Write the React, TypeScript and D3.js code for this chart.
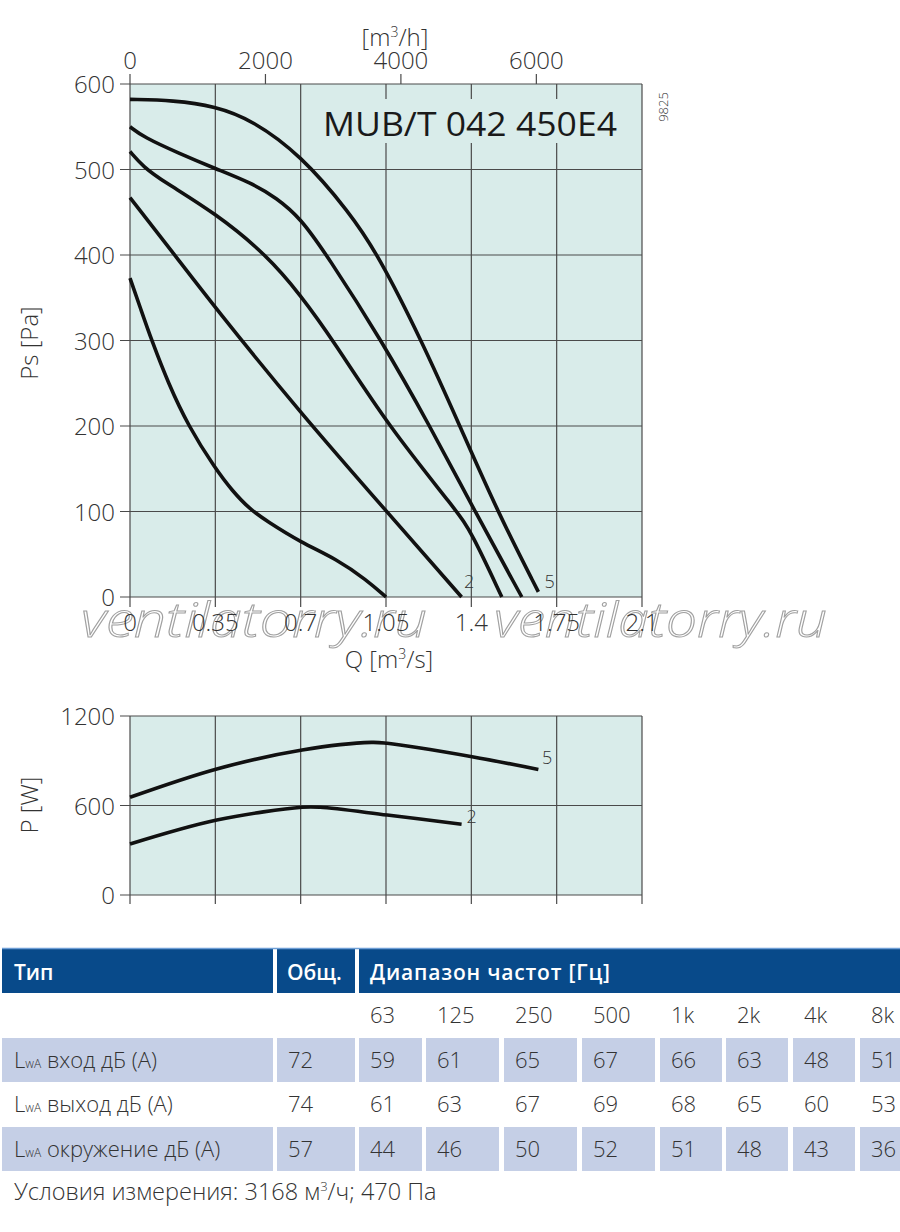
import React from 'react';
import * as d3 from 'd3';

// ---------- data ----------
const Q_TICKS = [0, 0.35, 0.7, 1.05, 1.4, 1.75, 2.1];
const Q_LABELS = ['0', '0.35', '0.7', '1.05', '1.4', '1.75', '2.1'];
const PS_TICKS = [0, 100, 200, 300, 400, 500, 600];
const FLOW_TICKS = [0, 2000, 4000, 6000]; // m3/h
const P_TICKS = [0, 600, 1200];

// Ps [Pa] vs Q [m3/s]
const curve1: [number, number][] = [[0, 373], [0.045, 336], [0.089, 300], [0.157, 250], [0.239, 200], [0.35, 150], [0.42, 124], [0.49, 103], [0.56, 89], [0.7, 64], [0.85, 44], [0.97, 20], [1.05, 0]];
const curve2: [number, number][] = [[0, 467], [0.178, 402], [0.35, 338], [0.7, 215], [1.053, 100], [1.36, 0]];
const curve3: [number, number][] = [[0, 521], [0.055, 503], [0.137, 486], [0.35, 449], [0.561, 400], [0.7, 353], [0.834, 300], [1.059, 200], [1.342, 100], [1.4, 76], [1.525, 0]];
const curve4: [number, number][] = [[0, 550], [0.055, 538], [0.2, 519], [0.35, 501], [0.5, 484], [0.6, 467], [0.7, 443], [0.807, 400], [1.032, 300], [1.23, 200], [1.415, 100], [1.607, 0]];
const curve5: [number, number][] = [[0, 582], [0.178, 581], [0.35, 574], [0.5, 558], [0.7, 517], [0.9, 450], [1.018, 400], [1.196, 300], [1.353, 200], [1.507, 100], [1.675, 6]];
const PS_CURVES = [curve1, curve2, curve3, curve4, curve5];

// P [W] vs Q [m3/s]
const power2: [number, number][] = [[0, 342], [0.356, 503], [0.706, 588], [0.78, 588], [1.055, 536], [1.36, 474]];
const power5: [number, number][] = [[0, 655], [0.356, 845], [0.706, 972], [0.99, 1023], [1.055, 1017], [1.403, 927], [1.675, 842]];
const POWER_CURVES = [power2, power5];

// table
const FREQS = ['63', '125', '250', '500', '1k', '2k', '4k', '8k'];
const ROW_NAMES = ['вход дБ (А)', 'выход дБ (А)', 'окружение дБ (А)'];
const TOTALS = [72, 74, 57];
const INLET = [59, 61, 65, 67, 66, 63, 48, 51];
const OUTLET = [61, 63, 67, 69, 68, 65, 60, 53];
const SURROUND = [44, 46, 50, 52, 51, 48, 43, 36];
const ROWS = [INLET, OUTLET, SURROUND];

// ---------- layout ----------
const FONT = '"Open Sans", "DejaVu Sans", sans-serif';
const TXT = '#333';
const GRID = '#4a4a4a';
const PLOT_BG = '#d9ecea';
const HEAD_BG = '#084a8a';
const ROW_BG = '#c5cfe6';

const x = d3.scaleLinear().domain([0, 2.1]).range([130, 642]);
const y = d3.scaleLinear().domain([0, 600]).range([597, 84]);
const yP = d3.scaleLinear().domain([0, 1200]).range([895, 716]);

const psLine = d3.line<[number, number]>().x(d => x(d[0])).y(d => y(d[1])).curve(d3.curveBasis);
const pLine = d3.line<[number, number]>().x(d => x(d[0])).y(d => yP(d[1])).curve(d3.curveCatmullRom.alpha(0.5));

// table geometry
const COL_X = [359, 426, 504, 582, 660, 726, 793, 860];
const COL_W = [63, 73, 73, 73, 62, 62, 62, 62];
const ROW_Y = [1038, 1082, 1127];
const ROW_H = 44;

export default function App() {
  return (
    <svg width={900} height={1232} style={{ position: 'absolute', left: 0, top: 0, background: '#fff' }} fontFamily={FONT} fontWeight={300}>
      {/* ===== Pressure chart ===== */}
      <rect x={x(0)} y={y(600)} width={x(2.1) - x(0)} height={y(0) - y(600)} fill={PLOT_BG} />
      {Q_TICKS.map((q, i) => (
        <line key={'vg' + i} x1={x(q)} x2={x(q)} y1={y(600)} y2={y(0) + 10} stroke={GRID} strokeWidth={1.2} />
      ))}
      {PS_TICKS.map((p, i) => (
        <line key={'hg' + i} x1={x(0) - 10} x2={x(2.1)} y1={y(p)} y2={y(p)} stroke={GRID} strokeWidth={1.2} />
      ))}
      {/* title box */}
      <rect x={318} y={99} width={312} height={44} fill={PLOT_BG} />
      <text x={323} y={136} fontSize={33} fontWeight={500} fill="#1a1a1a" textLength={294} lengthAdjust="spacingAndGlyphs">MUB/T 042 450E4</text>
      <text transform="translate(668,107) rotate(-90)" fontSize={13} fill={TXT} textAnchor="middle">9825</text>

      {/* watermark (under labels) */}
      <g fontStyle="italic" fontSize={48} fill="rgba(255,255,255,0.35)" stroke="#a0a0a0" strokeWidth={1}>
        <text x={81} y={637} textLength={346} lengthAdjust="spacingAndGlyphs">ventilatorry.ru</text>
        <text x={494} y={637} textLength={333} lengthAdjust="spacingAndGlyphs">ventilatorry.ru</text>
      </g>

      {/* top axis m3/h */}
      {FLOW_TICKS.map((f, i) => (
        <g key={'ft' + i}>
          <line x1={x(f / 3600)} x2={x(f / 3600)} y1={y(600)} y2={y(600) - 10} stroke={GRID} strokeWidth={1.2} />
          <text x={x(f / 3600)} y={69} fontSize={24} fill={TXT} textAnchor="middle">{f}</text>
        </g>
      ))}
      <text x={395} y={46} fontSize={24} fill={TXT} textAnchor="middle">[m<tspan dy={-9} fontSize={14}>3</tspan><tspan dy={9}>/h]</tspan></text>

      {/* left axis */}
      {PS_TICKS.map((p, i) => (
        <text key={'yl' + i} x={115} y={y(p) + 9} fontSize={24} fill={TXT} textAnchor="end">{p}</text>
      ))}
      <text transform="translate(38,343) rotate(-90)" fontSize={24} fill={TXT} textAnchor="middle">Ps [Pa]</text>

      {/* bottom axis */}
      {Q_TICKS.map((q, i) => (
        <text key={'xl' + i} x={x(q)} y={631} fontSize={24} fill={TXT} textAnchor="middle">{Q_LABELS[i]}</text>
      ))}
      <text x={389} y={668} fontSize={24} fill={TXT} textAnchor="middle">Q [m<tspan dy={-9} fontSize={14}>3</tspan><tspan dy={9}>/s]</tspan></text>

      {PS_CURVES.map((c, i) => (
        <path key={'c' + i} d={psLine(c) || ''} fill="none" stroke="#111" strokeWidth={3.6} />
      ))}
      <text x={x(1.37)} y={588} fontSize={18} fill={TXT}>2</text>
      <text x={x(1.70)} y={588} fontSize={18} fill={TXT}>5</text>

      {/* ===== Power chart ===== */}
      <rect x={x(0)} y={yP(1200)} width={x(2.1) - x(0)} height={yP(0) - yP(1200)} fill={PLOT_BG} />
      {Q_TICKS.map((q, i) => (
        <line key={'pvg' + i} x1={x(q)} x2={x(q)} y1={yP(1200)} y2={yP(0) + 9} stroke={GRID} strokeWidth={1.2} />
      ))}
      {P_TICKS.map((p, i) => (
        <g key={'ph' + i}>
          <line x1={x(0) - 10} x2={x(2.1)} y1={yP(p)} y2={yP(p)} stroke={GRID} strokeWidth={1.2} />
          <text x={115} y={yP(p) + 9} fontSize={24} fill={TXT} textAnchor="end">{p}</text>
        </g>
      ))}
      <text transform="translate(38,805) rotate(-90)" fontSize={24} fill={TXT} textAnchor="middle">P [W]</text>
      {POWER_CURVES.map((c, i) => (
        <path key={'pc' + i} d={pLine(c) || ''} fill="none" stroke="#111" strokeWidth={3.6} />
      ))}
      <text x={x(1.38)} y={823} fontSize={18} fill={TXT}>2</text>
      <text x={x(1.69)} y={764} fontSize={18} fill={TXT}>5</text>

      {/* ===== Table ===== */}
      <rect x={2} y={948} width={271} height={45} fill={HEAD_BG} />
      <rect x={277} y={948} width={78} height={45} fill={HEAD_BG} />
      <rect x={359} y={948} width={541} height={45} fill={HEAD_BG} />
      <line x1={2} x2={900} y1={948.5} y2={948.5} stroke="#6f9fd6" strokeWidth={1.5} />
      <g fill="#fff" fontSize={21} fontWeight={600}>
        <text x={14} y={980}>Тип</text>
        <text x={287} y={980}>Общ.</text>
        <text x={370} y={980} textLength={240} lengthAdjust="spacing">Диапазон частот [Гц]</text>
      </g>
      {FREQS.map((f, i) => (
        <text key={'fq' + i} x={COL_X[i] + 11} y={1023} fontSize={22} fill={TXT}>{f}</text>
      ))}
      {ROWS.map((row, r) => (
        <g key={'row' + r}>
          {r !== 1 && (
            <g fill={ROW_BG}>
              <rect x={2} y={ROW_Y[r]} width={271} height={ROW_H} />
              <rect x={277} y={ROW_Y[r]} width={78} height={ROW_H} />
              {COL_X.map((cx, i) => (
                <rect key={i} x={cx} y={ROW_Y[r]} width={COL_W[i]} height={ROW_H} />
              ))}
            </g>
          )}
          <text x={14} y={ROW_Y[r] + 30} fontSize={22} fill={TXT}>
            L<tspan fontSize={12}>wA</tspan><tspan> {ROW_NAMES[r]}</tspan>
          </text>
          <text x={288} y={ROW_Y[r] + 30} fontSize={22} fill={TXT}>{TOTALS[r]}</text>
          {row.map((v, i) => (
            <text key={i} x={COL_X[i] + 11} y={ROW_Y[r] + 30} fontSize={22} fill={TXT}>{v}</text>
          ))}
        </g>
      ))}
      <text x={14} y={1200} fontSize={23.5} fill={TXT}>
        Условия измерения: 3168 м<tspan dy={-9} fontSize={13}>3</tspan><tspan dy={9}>/ч; 470 Па</tspan>
      </text>
    </svg>
  );
}
